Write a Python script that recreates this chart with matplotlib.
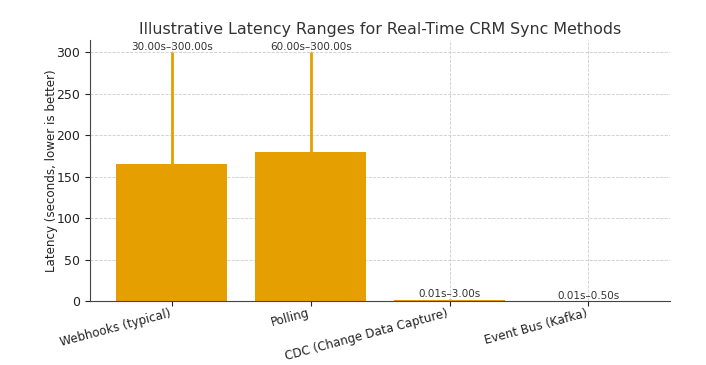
import matplotlib
matplotlib.use("Agg")
import matplotlib.pyplot as plt
import numpy as np

methods = ["Webhooks (typical)", "Polling", "CDC (Change Data Capture)", "Event Bus (Kafka)"]
low_s = [30.0, 60.0, 0.01, 0.01]
high_s = [300.0, 300.0, 3.0, 0.5]

BAR_COLOR = "#E69F00"

lo = np.array(low_s)
hi = np.array(high_s)
mid = (lo + hi) / 2
x = np.arange(len(methods))

fig = plt.figure(figsize=(7.06, 3.65), dpi=100)
ax = fig.add_axes([0.1275, 0.175, 0.822, 0.716])

ax.bar(x, mid, width=0.8, color=BAR_COLOR, zorder=2)
ax.errorbar(x, mid, yerr=[mid - lo, hi - mid], fmt="none",
            ecolor=BAR_COLOR, elinewidth=2, capsize=0, zorder=3)

for xi, l, h in zip(x, lo, hi):
    ax.text(xi, h, f"{l:.2f}s–{h:.2f}s", ha="center", va="bottom",
            fontsize=7.5, color="#333333", zorder=4)

ax.set_xticks(x)
ax.set_xticklabels(methods, rotation=15, ha="right", fontsize=8.6, color="#222222")
ax.set_ylabel("Latency (seconds, lower is better)", fontsize=8.6, color="#222222",
              labelpad=-1)
ax.set_title("Illustrative Latency Ranges for Real-Time CRM Sync Methods",
             fontsize=11.4, color="#333333", pad=4.5)
ax.tick_params(axis="y", labelsize=9, colors="#222222")
ax.tick_params(axis="x", colors="#222222", pad=0.5)
ax.set_ylim(0, 315)
ax.grid(True, linestyle="--", linewidth=0.6, color="#cccccc", zorder=0)
ax.set_axisbelow(True)
for side in ["top", "right"]:
    ax.spines[side].set_visible(False)
ax.spines["left"].set_color("#444444")
ax.spines["bottom"].set_color("#444444")

fig.savefig("out.png", dpi=100)
